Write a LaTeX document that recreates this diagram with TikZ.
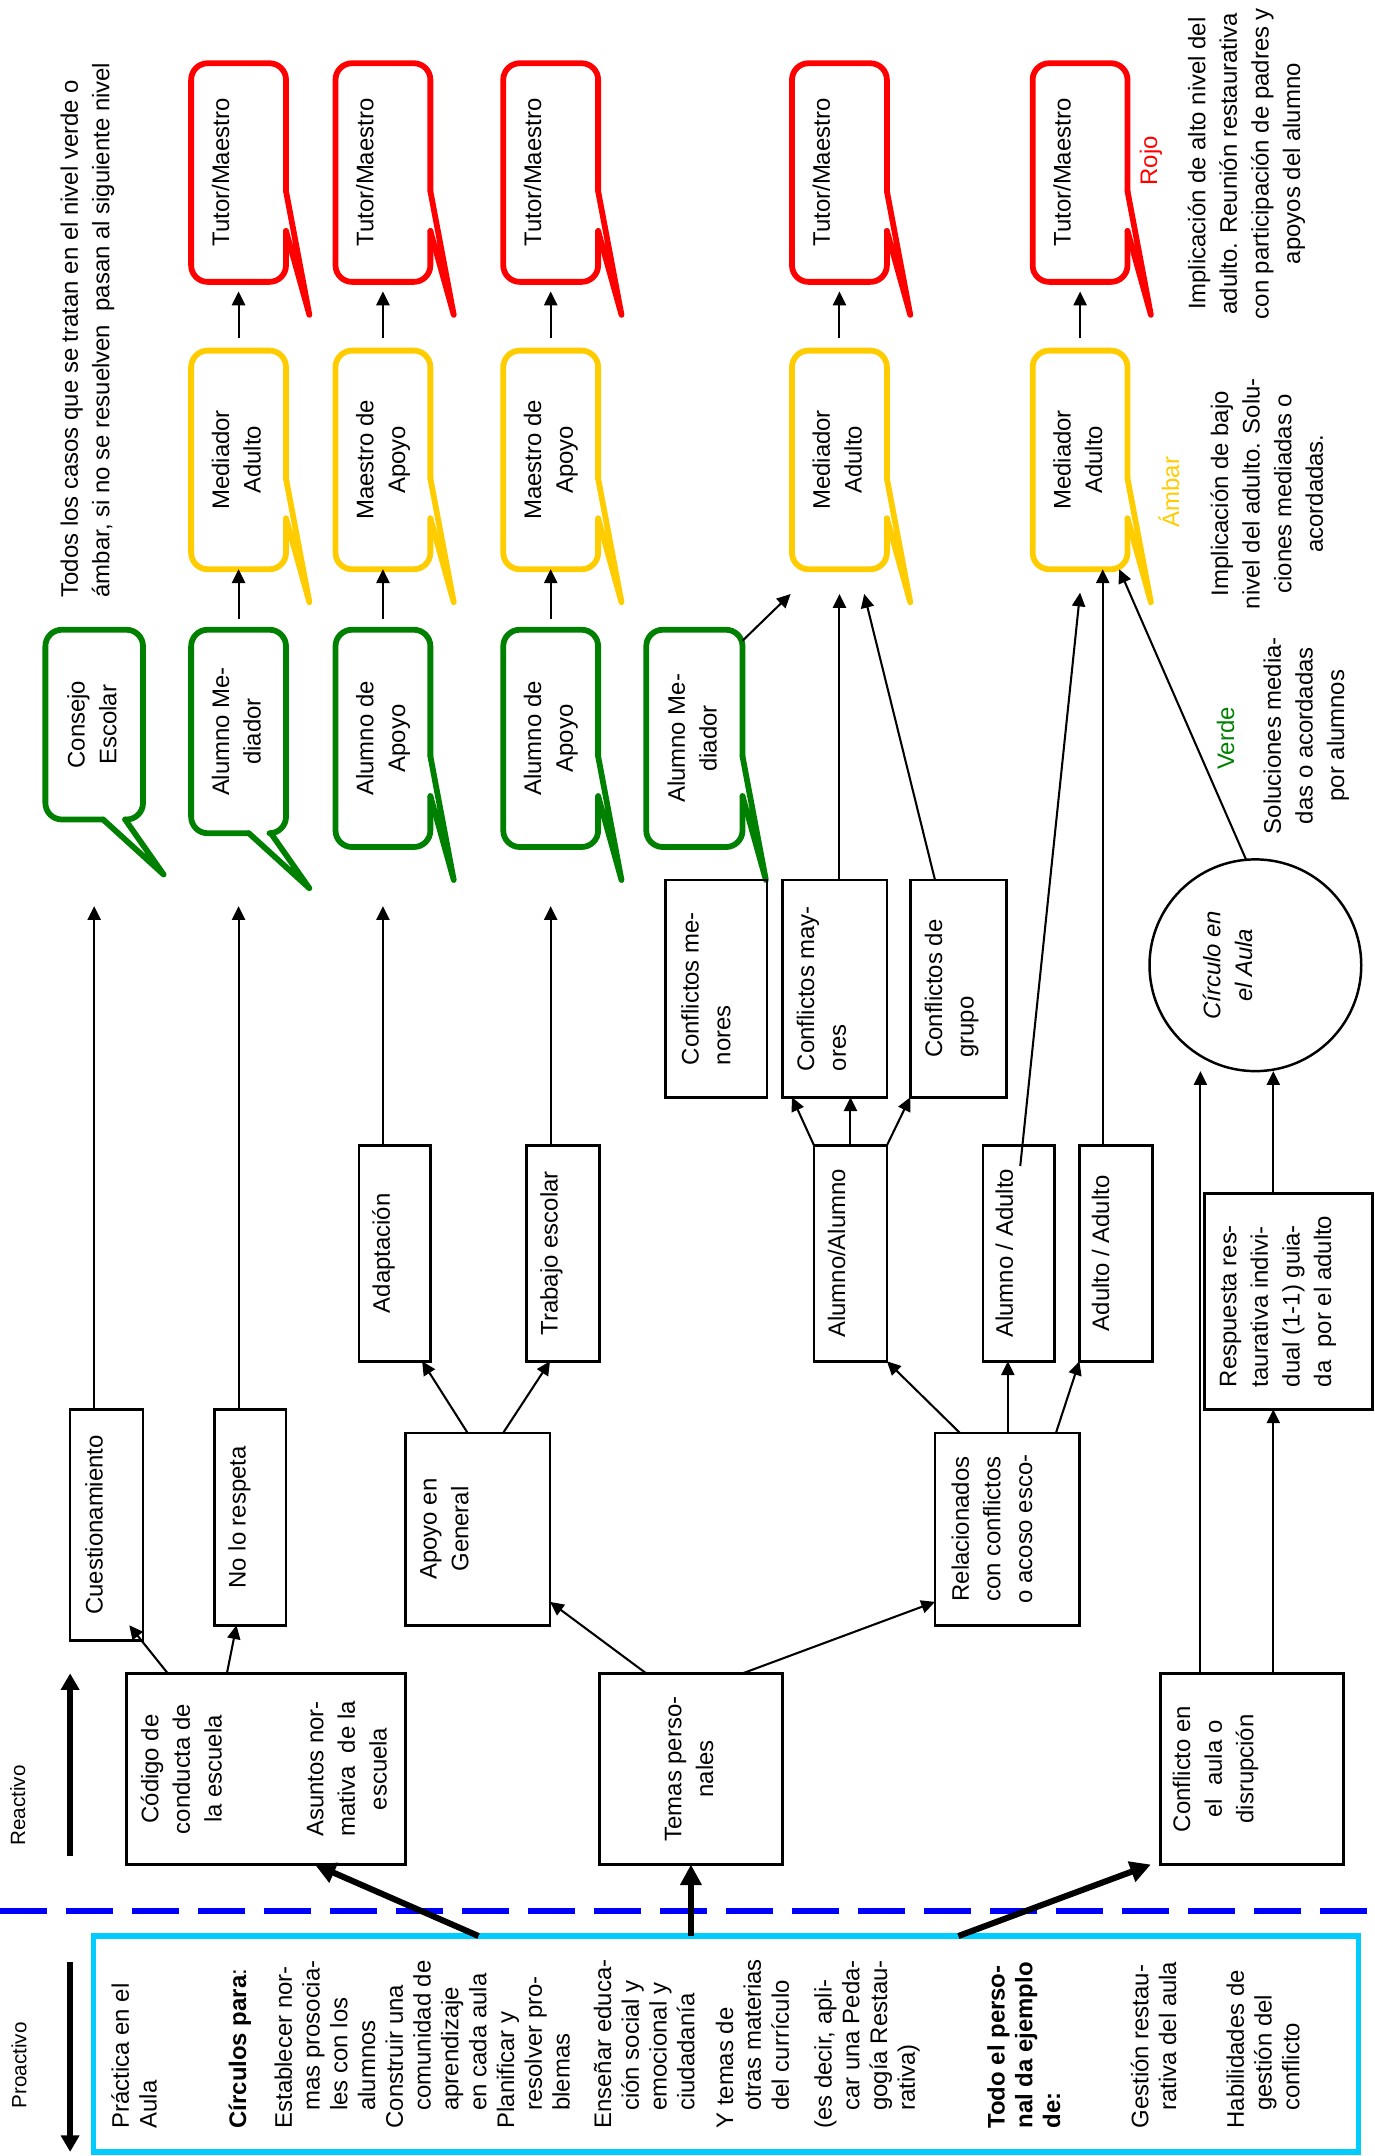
\documentclass[tikz,border=0pt]{standalone}
\usepackage{fontspec}
\setmainfont{Liberation Sans}
\usepackage{graphicx}
\usetikzlibrary{calc,arrows.meta}
\definecolor{rojo}{RGB}{255,0,0}
\definecolor{ambar}{RGB}{255,204,0}
\definecolor{verde}{RGB}{0,128,0}
\definecolor{cian}{RGB}{0,204,255}
\definecolor{azul}{RGB}{0,0,255}

\begin{document}
\begin{tikzpicture}[x=1pt,y=-1pt,font=\fontsize{17.4}{23}\selectfont,
    rbox/.style={draw,line width=1.8pt,inner sep=0pt,outer sep=0pt},
    bub/.style={inner sep=0pt,outer sep=0pt,minimum width=\bubblewidth,minimum height=\bubbleheight},
    bubline/.style={line width=4.2pt,line cap=round,line join=round},
    arr/.style={line width=1.5pt,-{Triangle[length=10pt,width=9.5pt]}},
    thickarr/.style={line width=4.4pt,-{Triangle[length=15pt,width=15pt]}},
    sidearr/.style={line width=4pt,-{Triangle[length=12pt,width=13pt]}},
    lbl/.style={inner sep=0pt,outer sep=0pt}]
    \pgfmathsetmacro{\bubblewidth}{69}
    \pgfmathsetmacro{\bubbleheight}{159}
    \pgfmathsetmacro{\tailx}{17}
    \pgfmathsetmacro{\taily}{24}
    \providecommand{\vt}[2][0]{\rotatebox{90}{\begin{tabular}{@{}c@{}}#2\end{tabular}}\kern#1pt\relax}
    \providecommand{\vtl}[2][0]{\rotatebox{90}{\begin{tabular}{@{}l@{}}#2\end{tabular}}\kern#1pt\relax}
    \providecommand{\bubbleR}[2]{%
      \draw[bubline,#2,rounded corners=12pt] ($(#1.south east)+(0,-37)$) -- (#1.south east) -- (#1.south west) -- (#1.north west) -- (#1.north east) -- ($(#1.south east)+(0,-66)$);
      \draw[bubline,#2] ($(#1.south east)+(0,-66)$) -- ($(#1.south east)+(\tailx,\taily)$) -- ($(#1.south east)+(0,-37)$);}
    \providecommand{\bubbleB}[2]{%
      \draw[bubline,#2,rounded corners=12pt] ($(#1.south west)+(58,0)$) -- (#1.south east) -- (#1.north east) -- (#1.north west) -- (#1.south west) -- ($(#1.south west)+(42,0)$);
      \draw[bubline,#2] ($(#1.south west)+(42,0)$) -- ($(#1.south west)+(86,40)$) -- ($(#1.south west)+(58,0)$);}
    \useasboundingbox (0,0) rectangle (1000,1568);

    % levels
    \node[bub] (r1) at (173.5,125.5) {\vt{Tutor/Maestro\\{}}};
    \node[bub] (r2) at (278.5,125.5) {\vt{Tutor/Maestro\\{}}};
    \node[bub] (r3) at (400.5,125.5) {\vt{Tutor/Maestro\\{}}};
    \node[bub] (r4) at (610.5,125.5) {\vt{Tutor/Maestro\\{}}};
    \node[bub] (r5) at (785.5,125.5) {\vt{Tutor/Maestro\\{}}};
    \node[bub] (a1) at (173.5,334.5) {\vt{Mediador\\Adulto}};
    \node[bub] (a2) at (278.5,334.5) {\vt{Maestro de\\Apoyo}};
    \node[bub] (a3) at (400.5,334.5) {\vt{Maestro de\\Apoyo}};
    \node[bub] (a4) at (610.5,334.5) {\vt{Mediador\\Adulto}};
    \node[bub] (a5) at (785.5,334.5) {\vt{Mediador\\Adulto}};
    \node[bub,minimum width=71,minimum height=138] (g1) at (68.5,527) {\vt{Consejo\\Escolar}};
    \node[bub,minimum height=148] (g2) at (173.5,532) {\vt{Alumno Me-\\diador}};
    \node[bub,minimum height=158] (g3) at (278.5,537) {\vt{Alumno de\\Apoyo}};
    \node[bub,minimum height=158] (g4) at (400.5,537) {\vt{Alumno de\\Apoyo}};
    \node[bub,minimum width=70,minimum height=158] (g5) at (505,537) {\vt{Alumno Me-\\diador}};
    \foreach \bb in {r1,r2,r3,r4,r5} {\bubbleR{\bb}{rojo}}
    \foreach \bb in {a1,a2,a3,a4,a5} {\bubbleR{\bb}{ambar}}
    \foreach \bb in {g3,g4,g5} {\bubbleR{\bb}{verde}}
    \foreach \bb in {g1,g2} {\bubbleB{\bb}{verde}}
    \foreach \lo/\hi in {g2/a1,g3/a2,g4/a3}
      \draw[arr,shorten <=8pt] (\lo.north) -- (\hi.south);
    \foreach \lo/\hi in {a1/r1,a2/r2,a3/r3,a4/r4,a5/r5}
      \draw[arr,shorten <=9pt,shorten >=7pt] (\lo.north) -- (\hi.south);

    \node[lbl] (todos) at (63.5,240) {\vtl{Todos los casos que se tratan en el nivel verde o\\ámbar, si no se resuelven\ \ pasan al siguiente nivel}};
    \node[lbl,text=rojo] (lrojo) at (837,117) {\vt{Rojo}};
    \node[lbl] (alto) at (906.5,119) {\vt{Implicación de alto nivel del\\adulto. Reunión restaurativa\\con participación de padres y\\apoyos del alumno}};
    \node[lbl,text=ambar] (lambar) at (853,358) {\vt{Ámbar}};
    \node[lbl] (bajo) at (923,359) {\vt{Implicación de bajo\\nivel del adulto. Solu-\\ciones mediadas o\\acordadas.}};
    \node[lbl,text=verde] (lverde) at (893,537) {\vt{Verde}};
    \node[lbl] (sol) at (950,535) {\vt{Soluciones media-\\das o acordadas\\por alumnos}};

    % cases
    \node[rbox,minimum width=53,minimum height=168] (cue) at (77.5,1109) {\vt[15]{Cuestionamiento}};
    \node[rbox,minimum width=52,minimum height=157] (nlr) at (182,1103.5) {\vt[16]{No lo respeta}};
    \node[rbox,minimum width=203,minimum height=139] (cod) at (193.5,1286.5) {\vt{Código de\\conducta de\\la escuela\\[51pt]Asuntos nor-\\mativa\ \ de la\\escuela}};
    \node[rbox,minimum width=133,minimum height=139] (tem) at (502.5,1286.5) {\vt{Temas perso-\\nales}};
    \node[rbox,minimum width=133,minimum height=139] (con) at (910.5,1286.5) {\vt[53]{Conflicto en\\el\ \ aula o\\disrupción}};
    \node[rbox,minimum width=105,minimum height=140] (apo) at (347.5,1112) {\vt[46]{Apoyo en\\General}};
    \node[rbox,minimum width=105,minimum height=140] (rel) at (732.5,1112) {\vt[19]{Relacionados\\con conflictos\\o acoso esco-}};
    \node[rbox,minimum width=52,minimum height=157] (ada) at (287,911.5) {\vt[16]{Adaptación}};
    \node[rbox,minimum width=53,minimum height=157] (tra) at (409.5,911.5) {\vt[17]{Trabajo escolar}};
    \node[rbox,minimum width=53,minimum height=157] (aal) at (618.5,911.5) {\vt[17]{Alumno/Alumno}};
    \node[rbox,minimum width=52,minimum height=157] (aad) at (741,911.5) {\vt[18]{Alumno / Adulto}};
    \node[rbox,minimum width=53,minimum height=157] (adad) at (811.5,911.5) {\vt[19]{Adulto / Adulto}};
    \node[rbox,minimum width=74,minimum height=158] (cme) at (521,719) {\vtl[12]{Conflictos me-\\nores}};
    \node[rbox,minimum width=76,minimum height=158] (cma) at (607,719) {\vtl[16]{Conflictos may-\\ores}};
    \node[rbox,minimum width=70,minimum height=158] (cgr) at (697,719) {\vtl[10]{Conflictos de\\grupo}};
    \node[rbox,minimum width=122,minimum height=157] (res) at (937,946.5) {\vtl[16]{Respuesta res-\\taurativa indivi-\\dual (1-1) guia-\\da\ \ por el adulto}};
    \node[rbox,circle,minimum size=154] (cir) at (913,702) {\itshape\vt[37]{Círculo en\\el Aula}};

    \draw[arr,shorten >=63pt] (cue.north -| g1.south) -- (g1.south);
    \draw[arr,shorten >=53pt] (nlr.north -| g2.south) -- (g2.south);
    \draw[arr,shorten >=43pt] (ada.north -| g3.south) -- (g3.south);
    \draw[arr,shorten >=43pt] (tra.north -| g4.south) -- (g4.south);
    \draw[arr] ($(cod.north west)+(30,0)$) -- ($(cue.south east)+(-10,-11)$);
    \draw[arr] ($(cod.north west)+(73,0)$) -- ($(nlr.south)+(-10,0)$);
    \draw[arr] ($(tem.north west)+(34,0)$) -- ($(apo.south east)+(0,-17)$);
    \draw[arr] ($(tem.north west)+(104,0)$) -- ($(rel.south west)+(0,-17)$);
    \draw[arr] ($(apo.north west)+(45,0)$) -- ($(ada.south east)+(-6,0)$);
    \draw[arr] ($(apo.north west)+(71,0)$) -- ($(tra.south west)+(17,0)$);
    \draw[arr] ($(rel.north west)+(18,0)$) -- (aal.south east);
    \draw[arr] ($(rel.north west)+(53,0)$) -- ($(aad.south)+(-8,0)$);
    \draw[arr] ($(rel.north west)+(88,0)$) -- (adad.south west);
    \draw[arr] (aal.north west) -- ($(cma.south west)+(7,0)$);
    \draw[arr] (aal.north) -- (aal.north |- cma.south);
    \draw[arr] (aal.north east) -- (cgr.south west);
    \draw[arr,shorten >=18pt] (cma.north -| a4.south) -- (a4.south);
    \draw[arr] ($(cgr.north west)+(18,0)$) -- ($(a4.south)+(18,18)$);
    \draw[arr] ($(g5.north east)+(0,8)$) -- ($(a4.south west)+(-1,18)$);
    \draw[arr] ($(aad.north east)+(-25,15)$) -- ($(a5.south)+(0,17)$);
    \draw[arr] ($(adad.north west)+(17,0)$) -- ($(a5.south west)+(51,0)$);
    \draw[arr] (cir.95) -- ($(a5.south east)+(-6,0)$);
    \coordinate (cy) at ($(con.north west)+(29,0)$);
    \draw[arr] (cy) -- (cy |- cir.south);
    \coordinate (cx) at ($(res.south)+(-11,0)$);
    \draw[arr] (cx |- con.north) -- (cx);
    \draw[arr] (cx |- res.north) -- (cx |- cir.south);

    % proactive / reactive
    \coordinate (dl) at (0,1390);
    \coordinate (dr) at (1000,1390);
    \draw[azul,line width=4.4pt,dash pattern=on 34pt off 14pt] (dl) -- (dr);
    \node[draw=cian,line width=3.8pt,minimum width=920,minimum height=157,inner sep=0pt,outer sep=0pt] (pro) at (528,1486.5) {};
    \node[lbl,anchor=south west,font=\fontsize{17.4}{20.2}\selectfont] (prot) at (79.5,1548) {\vtl{%
      Práctica en el\\
      Aula\\[45pt]
      \textbf{Círculos para}:\\[13pt]
      Establecer nor-\\
      \hspace*{13pt}mas prosocia-\\
      \hspace*{13pt}les con los\\
      \hspace*{13pt}alumnos\\
      Construir una\\
      \hspace*{13pt}comunidad de\\
      \hspace*{13pt}aprendizaje\\
      \hspace*{13pt}en cada aula\\
      Planificar y\\
      \hspace*{13pt}resolver pro-\\
      \hspace*{13pt}blemas\\[10pt]
      Enseñar educa-\\
      \hspace*{13pt}ción social y\\
      \hspace*{13pt}emocional y\\
      \hspace*{13pt}ciudadanía\\[8pt]
      Y temas de\\
      \hspace*{13pt}otras materias\\
      \hspace*{13pt}del currículo\\[11pt]
      (es decir, apli-\\
      \hspace*{13pt}car una Peda-\\
      \hspace*{13pt}gogía Restau-\\
      \hspace*{13pt}rativa)\\[45pt]
      \textbf{Todo el perso-}\\
      \textbf{nal da ejemplo}\\
      \textbf{de:}\\[44pt]
      Gestión restau-\\
      \hspace*{13pt}rativa del aula\\[29pt]
      Habilidades de\\
      \hspace*{13pt}gestión del\\
      \hspace*{13pt}conflicto}};
    \draw[thickarr] ($(pro.north west)+(280,0)$) -- ($(cod.south west)+(137,0)$);
    \draw[thickarr] (pro.north -| tem.south) -- (tem.south);
    \draw[thickarr] ($(pro.north west)+(629,0)$) -- ($(con.south west)+(-7,0)$);
    \node[lbl,font=\fontsize{15}{18}\selectfont] (proa) at (15.6,1502) {\vt{Proactivo}};
    \node[lbl,font=\fontsize{15}{18}\selectfont] (reac) at (14.6,1313) {\vt{Reactivo}};
    \coordinate (pa) at (51,1427);
    \coordinate (pb) at (51,1565);
    \coordinate (ra) at (51,1350);
    \coordinate (rb) at (51,1217);
    \draw[sidearr] (pa) -- (pb);
    \draw[sidearr] (ra) -- (rb);
\end{tikzpicture}
\end{document}
